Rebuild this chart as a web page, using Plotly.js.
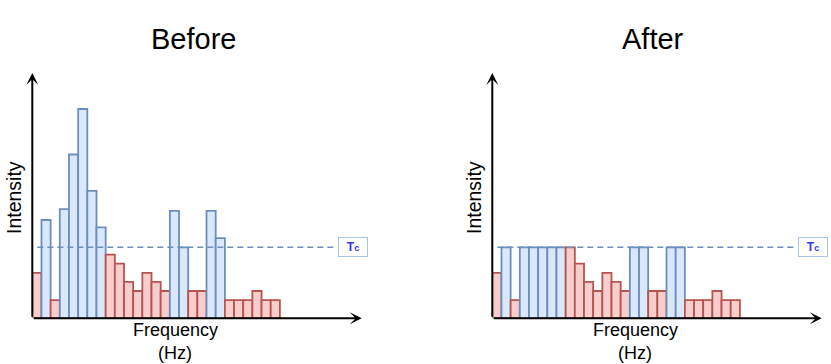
<!DOCTYPE html>
<html>
<head>
<meta charset="utf-8">
<script src="https://cdn.plot.ly/plotly-3.0.1.min.js"></script>
<style>
  body { margin: 0; background: #fff; }
  #chart { width: 831px; height: 364px; }
</style>
</head>
<body>
<div id="chart"></div>
<script>
// frequency bins, 27 of them
var bins = [];
for (var i = 0; i < 27; i++) bins.push(i);

var before = [5, 10.8, 2, 12, 18, 23, 14, 10, 7, 6, 4, 3, 5, 4, 3, 11.8, 7.8, 3, 3, 11.8, 8.8, 2, 2, 2, 3, 2, 2];
var after = [5, 7.8, 2, 7.8, 7.8, 7.8, 7.8, 7.8, 7.8, 6, 4, 3, 5, 4, 3, 7.8, 7.8, 3, 3, 7.8, 7.8, 2, 2, 2, 3, 2, 2];
var kind = ['lo','hi','lo','hi','hi','hi','hi','hi','lo','lo','lo','lo','lo','lo','lo','hi','hi','lo','lo','hi','hi','lo','lo','lo','lo','lo','lo'];
var tc = 7.8;

var fillCol = {hi: '#dae8fc', lo: '#f8cecc'};
var lineCol = {hi: '#6c8ebf', lo: '#b85450'};

var fills = kind.map(function(k) { return fillCol[k]; });
var lines = kind.map(function(k) { return lineCol[k]; });

var trace1 = {
  x: bins, y: before, type: 'bar', width: 1,
  xaxis: 'x', yaxis: 'y',
  marker: {color: fills, line: {color: lines, width: 1.8}}
};
var trace2 = {
  x: bins, y: after, type: 'bar', width: 1,
  xaxis: 'x2', yaxis: 'y2',
  marker: {color: fills, line: {color: lines, width: 1.8}}
};

var W = 831, H = 364;
var x0 = 32.3, base = 318.3, bw = 9.17, unit = 9.1;
var xr = [-0.5, -0.5 + (W - 460 - x0) / bw];
var yr = [0, (base - 40) / unit];
var yTop = (base - 73) / unit;
var xTip = (361.7 - x0) / bw - 0.5;

function ax(dom) {
  return {domain: dom, range: xr, visible: false, fixedrange: true};
}
function ay() {
  return {domain: [(H - base) / H, (H - 40) / H], range: yr, visible: false, fixedrange: true};
}

// paper-positioned text, centred on a pixel point
function label(px, py, txt, size, angle) {
  return {xref: 'paper', yref: 'paper', x: px / W, y: (H - py) / H, xanchor: 'center', yanchor: 'middle',
    showarrow: false, textangle: angle || 0, text: txt,
    font: {family: 'Liberation Sans', size: size, color: '#000'}};
}

var shapes = [];
var annotations = [];
var panels = [['x', 'y', 0, 'Before'], ['x2', 'y2', 460, 'After']];
panels.forEach(function(p) {
  shapes.push({type: 'line', xref: p[0], yref: p[1], x0: 0.05, x1: (334 - x0) / bw - 0.5, y0: tc, y1: tc,
    line: {color: '#6c8ebf', width: 1.5, dash: '6px,4px'}, layer: 'above'});
  // axis arrows
  annotations.push({xref: p[0], yref: p[1], axref: p[0], ayref: p[1], x: -0.5, y: yTop, ax: -0.5, ay: 0,
    text: '', showarrow: true, arrowhead: 3, arrowsize: 1, arrowwidth: 2, arrowcolor: '#000'});
  annotations.push({xref: p[0], yref: p[1], axref: p[0], ayref: p[1], x: xTip, y: 0, ax: -0.5, ay: 0,
    text: '', showarrow: true, arrowhead: 3, arrowsize: 1, arrowwidth: 2, arrowcolor: '#000'});
  annotations.push({xref: p[0], yref: p[1], x: (352.8 - x0) / bw - 0.5, y: tc, showarrow: false,
    xanchor: 'center', yanchor: 'middle',
    text: '<b>T<span style="font-size:9px">c</span></b>', font: {family: 'Liberation Sans', size: 12, color: '#3535f0'},
    bgcolor: '#fff', bordercolor: '#a9c4eb', borderwidth: 1, width: 26, height: 16});
  annotations.push(label(193 + p[2], 39, p[3], 29));
  annotations.push(label(175 + p[2], 330, 'Frequency', 18));
  annotations.push(label(175 + p[2], 353, '(Hz)', 18));
  annotations.push(label(14 + p[2], 198, 'Intensity', 19.5, -90));
});

var layout = {
  width: W, height: H,
  margin: {l: 0, r: 0, t: 0, b: 0},
  showlegend: false,
  hovermode: false,
  paper_bgcolor: '#fff',
  plot_bgcolor: 'rgba(0,0,0,0)',
  bargap: 0,
  xaxis: ax([x0 / W, (W - 460) / W]),
  yaxis: ay(),
  xaxis2: ax([(x0 + 460) / W, 1]),
  yaxis2: ay(),
  shapes: shapes,
  annotations: annotations
};
layout.yaxis2.anchor = 'x2';
layout.xaxis2.anchor = 'y2';

Plotly.newPlot('chart', [trace1, trace2], layout, {displayModeBar: false, staticPlot: true});
</script>
</body>
</html>
